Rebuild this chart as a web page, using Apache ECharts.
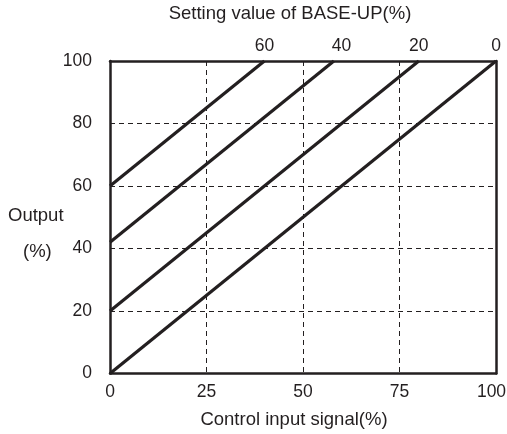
<!DOCTYPE html>
<html><head><meta charset="utf-8">
<script src="https://cdn.jsdelivr.net/npm/echarts@6/dist/echarts.min.js"></script>
<style>html,body{margin:0;padding:0;background:#fff}#c{width:507px;height:434px}</style>
</head><body><div id="c"></div>
<script>
const line0 = [[0, 0], [100, 100]];
const line20 = [[0, 20], [80, 100]];
const line40 = [[0, 42], [58, 100]];
const line60 = [[0, 60], [40, 100]];
const bottomTicks = [0, 25, 50, 75, 100];
const topTickLabels = [0, 20, 40, 60];
const yTicks = [0, 20, 40, 60, 80, 100];

const font = 'Liberation Sans, Arial, sans-serif';
const col = '#231f20';
const tickFs = 17.5, nameFs = 18.5;
const chart = echarts.init(document.getElementById('c'));
const mk = (d) => ({type: 'line', data: d, symbol: 'none', xAxisIndex: 0, yAxisIndex: 0,
  lineStyle: {color: col, width: 3.2}, silent: true});
chart.setOption({
  animation: false,
  grid: {left: 110, right: 11, top: 61, bottom: 60.5, containLabel: false, outerBoundsMode: 'none'},
  xAxis: [
    {type: 'value', min: 0, max: 100, interval: 25, position: 'bottom',
     name: 'Control input signal(%)', nameLocation: 'middle', nameGap: 37,
     nameTextStyle: {color: col, fontSize: nameFs, fontFamily: font, padding: [0, 18, 0, 0]},
     axisLine: {onZero: false, lineStyle: {color: col, width: 2.5}}, axisTick: {show: false},
     axisLabel: {color: col, fontSize: tickFs, fontFamily: font, margin: 10,
       formatter: v => !bottomTicks.includes(v) ? '' : (v === 100 ? '{r|100}' : String(v)),
       rich: {r: {color: col, fontSize: tickFs, fontFamily: font, padding: [0, 9, 0, 0]}}},
     splitLine: {show: true, lineStyle: {color: col, type: [5, 4], width: 1}}},
    {type: 'value', min: 0, max: 100, interval: 20, position: 'top', inverse: true,
     name: 'Setting value of BASE-UP(%)', nameLocation: 'middle', nameGap: 38,
     nameTextStyle: {color: col, fontSize: nameFs, fontFamily: font, padding: [0, 26, 0, 0]},
     axisLine: {show: true, onZero: false, lineStyle: {color: col, width: 2.5}}, axisTick: {show: false},
     axisLabel: {color: col, fontSize: tickFs, fontFamily: font, margin: 6,
       formatter: v => topTickLabels.includes(v) ? String(v) : ''},
     splitLine: {show: false}}
  ],
  yAxis: [
    {type: 'value', min: 0, max: 100, interval: 20, position: 'left',
     axisLine: {show: true, onZero: false, lineStyle: {color: col, width: 2.5}}, axisTick: {show: false},
     axisLabel: {color: col, fontSize: tickFs, fontFamily: font, margin: 18,
       formatter: v => yTicks.includes(v) ? String(v) : ''},
     splitLine: {show: true, lineStyle: {color: col, type: [5, 4], width: 1}}},
    {type: 'value', min: 0, max: 100, interval: 20, position: 'right',
     axisLine: {show: true, onZero: false, lineStyle: {color: col, width: 2.5}}, axisTick: {show: false},
     axisLabel: {show: false}, splitLine: {show: false}}
  ],
  graphic: [
    {type: 'text', x: 8, y: 216, style: {text: 'Output', fill: col, font: nameFs + 'px ' + font, verticalAlign: 'middle'}},
    {type: 'text', x: 23, y: 252, style: {text: '(%)', fill: col, font: nameFs + 'px ' + font, verticalAlign: 'middle'}}
  ],
  series: [mk(line0), mk(line20), mk(line40), mk(line60)]
});
</script></body></html>
